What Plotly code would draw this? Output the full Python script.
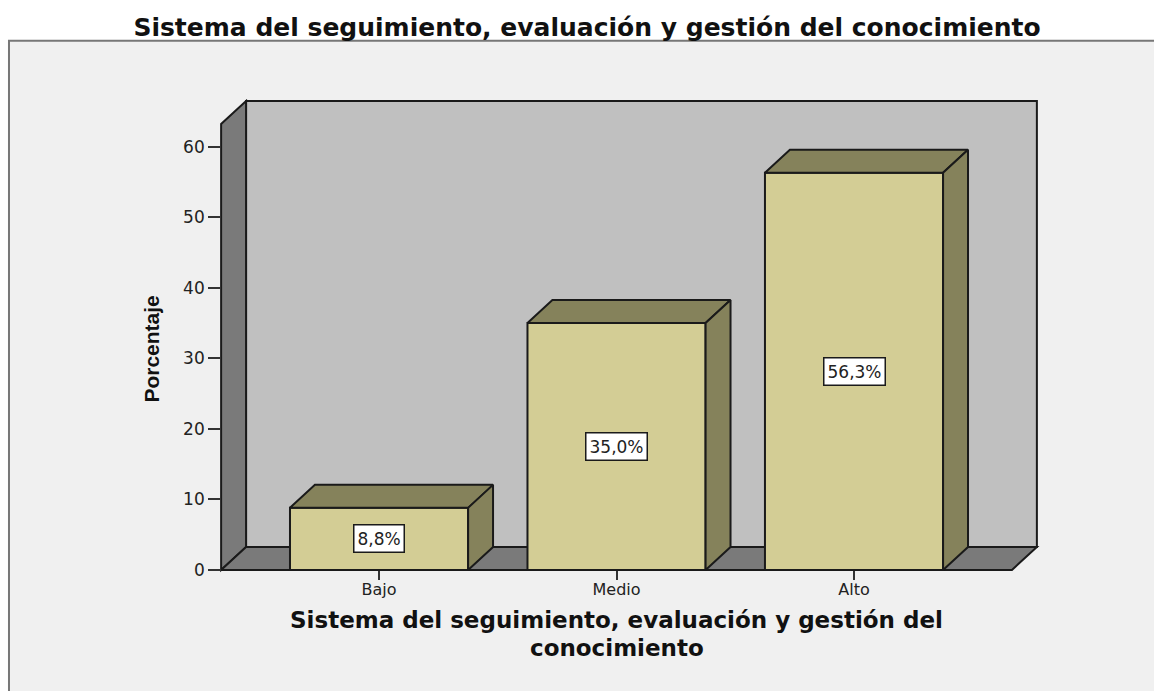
"""Gráfico de barras 3D: sistema del seguimiento, evaluación y gestión del conocimiento."""

import plotly.graph_objects as go

# Datos
categorias = ["Bajo", "Medio", "Alto"]
porcentajes = [8.8, 35.0, 56.3]
etiquetas = ["8,8%", "35,0%", "56,3%"]
y_ticks = [0, 10, 20, 30, 40, 50, 60]

TITULO = "Sistema del seguimiento, evaluación y gestión del conocimiento"
TITULO_X = ["Sistema del seguimiento, evaluación y gestión del", "conocimiento"]
TITULO_Y = "Porcentaje"

# Geometría de la caja 3D, en unidades de los ejes
POS = [0, 1, 2]
ANCHO = 0.75
DX = 0.105   # profundidad en x
DY = 3.26    # profundidad en y
X_MIN, X_MAX = -0.665, 2.665   # frente de la caja
Y_TOP = 63.2

C_PANEL = "#f0f0f0"
C_PARED = "#7a7a7a"
C_FONDO = "#c0c0c0"
C_BARRA = "#d3cd95"
C_SOMBRA = "#85825b"
C_LINEA = "#1a1a1a"
FUENTE = "DejaVu Sans"

# Márgenes algo mayores que la caja para que no se recorten las líneas
x_rango = [X_MIN - 0.03, X_MAX + DX + 0.03]
y_rango = [-1, Y_TOP + DY + 1]
pos_y = (X_MIN - x_rango[0]) / (x_rango[1] - x_rango[0])
pos_x = (0 - y_rango[0]) / (y_rango[1] - y_rango[0])


def poligono(puntos, relleno):
    path = "M " + " L ".join(f"{x},{y}" for x, y in puntos) + " Z"
    return dict(type="path", path=path, xref="x", yref="y", layer="below",
                fillcolor=relleno, line=dict(color=C_LINEA, width=2))


fig = go.Figure()

# Cara frontal
fig.add_trace(go.Bar(
    x=POS, y=porcentajes, width=ANCHO,
    marker=dict(color=C_BARRA, line=dict(color=C_LINEA, width=2)),
    hoverinfo="x+y", showlegend=False,
))

# Caras superior y lateral
for p, v in zip(POS, porcentajes):
    izq, der = p - ANCHO / 2, p + ANCHO / 2
    fig.add_trace(go.Scatter(
        x=[izq, izq + DX, der + DX, der, izq],
        y=[v, v + DY, v + DY, v, v],
        mode="lines", fill="toself", fillcolor=C_SOMBRA,
        line=dict(color=C_LINEA, width=2), hoverinfo="skip", showlegend=False,
    ))
    fig.add_trace(go.Scatter(
        x=[der, der + DX, der + DX, der, der],
        y=[0, DY, v + DY, v, 0],
        mode="lines", fill="toself", fillcolor=C_SOMBRA,
        line=dict(color=C_LINEA, width=2), hoverinfo="skip", showlegend=False,
    ))

# Etiquetas de valor
anotaciones = [
    dict(x=p, y=v / 2, text=t, showarrow=False, bgcolor="white",
         bordercolor=C_LINEA, borderwidth=1.5, borderpad=3,
         font=dict(family=FUENTE, size=17, color="#222222"))
    for p, v, t in zip(POS, porcentajes, etiquetas)
]
# Título del eje x en dos líneas, centrado bajo la categoría central
for linea, y_papel in zip(TITULO_X, [-0.089, -0.147]):
    anotaciones.append(dict(
        x=1, xref="x", y=y_papel, yref="paper", yanchor="middle", text=f"<b>{linea}</b>",
        showarrow=False, font=dict(family=FUENTE, size=23, color="#111111"),
    ))
# Título del eje y
anotaciones.append(dict(
    x=-0.0916, xref="paper", y=31.3, yref="y", text=f"<b>{TITULO_Y}</b>", textangle=-90,
    showarrow=False, font=dict(family="Liberation Sans", size=21, color="#111111"),
))

fig.update_layout(
    width=1154, height=691,
    margin=dict(l=214, r=110, t=94, b=114),
    paper_bgcolor="white", plot_bgcolor="rgba(0,0,0,0)",
    title=dict(text=f"<b>{TITULO}</b>", x=0.5087, xanchor="center", y=0.961, yanchor="middle",
               font=dict(family=FUENTE, size=25, color="#111111")),
    shapes=[
        # Panel gris claro
        dict(type="rect", xref="paper", yref="paper", layer="below",
             x0=-0.247, x1=1.16, y0=-0.27, y1=1.11,
             line=dict(color="#777777", width=2), fillcolor=C_PANEL),
        # Caja 3D
        poligono([(X_MIN + DX, DY), (X_MAX + DX, DY), (X_MAX + DX, Y_TOP + DY), (X_MIN + DX, Y_TOP + DY)], C_FONDO),
        poligono([(X_MIN, 0), (X_MIN + DX, DY), (X_MIN + DX, Y_TOP + DY), (X_MIN, Y_TOP)], C_PARED),
        poligono([(X_MIN, 0), (X_MAX, 0), (X_MAX + DX, DY), (X_MIN + DX, DY)], C_PARED),
    ],
    annotations=anotaciones,
    bargap=0.25,
)

fig.update_xaxes(
    range=x_rango, tickvals=POS, ticktext=categorias, anchor="free", position=pos_x,
    showgrid=False, zeroline=False, showline=False,
    ticks="outside", ticklen=9, tickwidth=2, tickcolor="#333333", ticklabelstandoff=-4,
    tickfont=dict(family=FUENTE, size=16, color="#222222"),
)
fig.update_yaxes(
    range=y_rango, tickvals=y_ticks, anchor="free", position=pos_y,
    showgrid=False, zeroline=False, showline=False,
    ticks="outside", ticklen=13, tickwidth=2, tickcolor="#333333",
    tickfont=dict(family=FUENTE, size=17, color="#222222"),
)

# Sin márgenes de página: el lienzo ocupa toda la ventana
fig.write_html("out.html", default_width="1154px", default_height="691px",
               config={"displayModeBar": False},
               post_script="document.body.style.margin = '0'; document.documentElement.style.overflow = 'hidden';")
